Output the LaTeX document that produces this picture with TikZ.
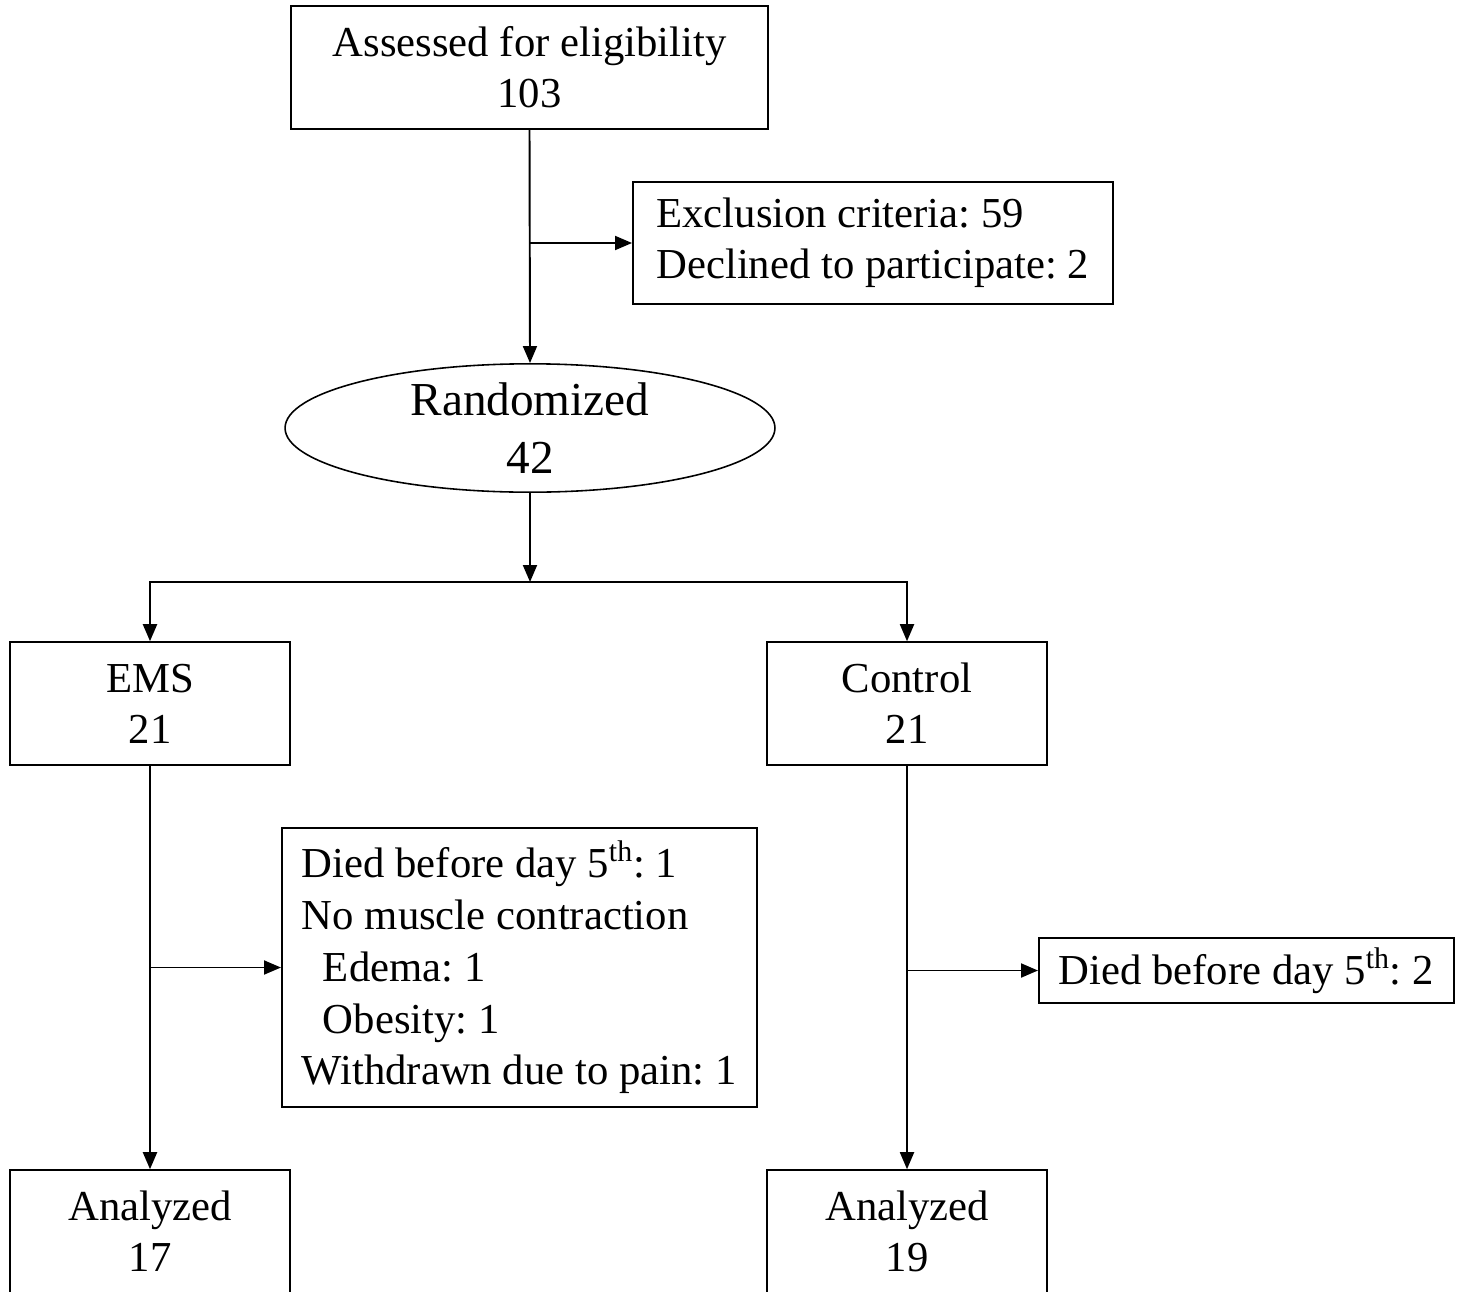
\documentclass[tikz,border=0pt]{standalone}
\usepackage{fontspec}
\setmainfont{Liberation Serif}
\usetikzlibrary{shapes.geometric,arrows.meta}
\frenchspacing

\begin{document}
\begin{tikzpicture}[x=0.02cm,y=-0.02cm]

			\tikzstyle{box}=[fill=white,draw=black,line width=0.9pt,
				inner sep=0pt,align=center,
				font=\fontsize{24.3}{29}\selectfont]
			\tikzstyle{note}=[box,align=left,inner xsep=0.4cm,anchor=west]
			\tikzstyle{arrow}=[line width=1.1pt,
				-{Triangle[length=0.34cm,width=0.28cm]}]

			\useasboundingbox (0,0) rectangle (1462,1291);

			\node[box,minimum width=9.54cm,minimum height=2.46cm]
				(11) at (529.5,67.5) {Assessed for eligibility\\103};
			\node[note,minimum width=9.6cm,minimum height=2.44cm]
				(12) at (632,243) {Exclusion criteria: 59\\Declined to participate: 2};
			\node[box,ellipse,minimum width=9.8cm,minimum height=2.32cm,
				font=\fontsize{26.9}{33}\selectfont]
				(21) at (530,428) {Randomized\\42};
			\coordinate (split) at (530,582);

			\node[box,minimum width=5.6cm,minimum height=2.46cm]
				(31) at (150,703.5) {EMS\\21};
			\node[box,minimum width=5.6cm,minimum height=2.46cm]
				(32) at (907,703.5) {Control\\21};
			\node[note,minimum width=9.5cm,minimum height=5.58cm,
				font=\fontsize{24.3}{29.5}\selectfont]
				(33) at (281,967.5) {Died before day 5\textsuperscript{th}: 1\\
				No muscle contraction\\
				\hspace*{0.42cm}Edema: 1\\
				\hspace*{0.42cm}Obesity: 1\\
				Withdrawn due to pain: 1};
			\node[note,minimum height=1.3cm]
				(34) at (1038,970.5) {Died before day 5\textsuperscript{th}: 2};

			\node[box,minimum width=5.6cm,minimum height=2.46cm]
				(41) at (150,1231.5) {Analyzed\\17};
			\node[box,minimum width=5.6cm,minimum height=2.46cm]
				(42) at (907,1231.5) {Analyzed\\19};

			\draw[arrow] (11.south) -- (21.north);
			\draw[arrow] (11.south |- 12.west) -- (12.west);
			\draw[arrow] (21.south) -- (split);
			\draw[arrow] (split) -| (31.north);
			\draw[arrow] (split) -| (32.north);
			\draw[arrow] (31.south) -- (41.north);
			\draw[arrow] (31.south |- 33.west) -- (33.west);
			\draw[arrow] (32.south) -- (42.north);
			\draw[arrow] (32.south |- 34.west) -- (34.west);

\end{tikzpicture}
\end{document}
